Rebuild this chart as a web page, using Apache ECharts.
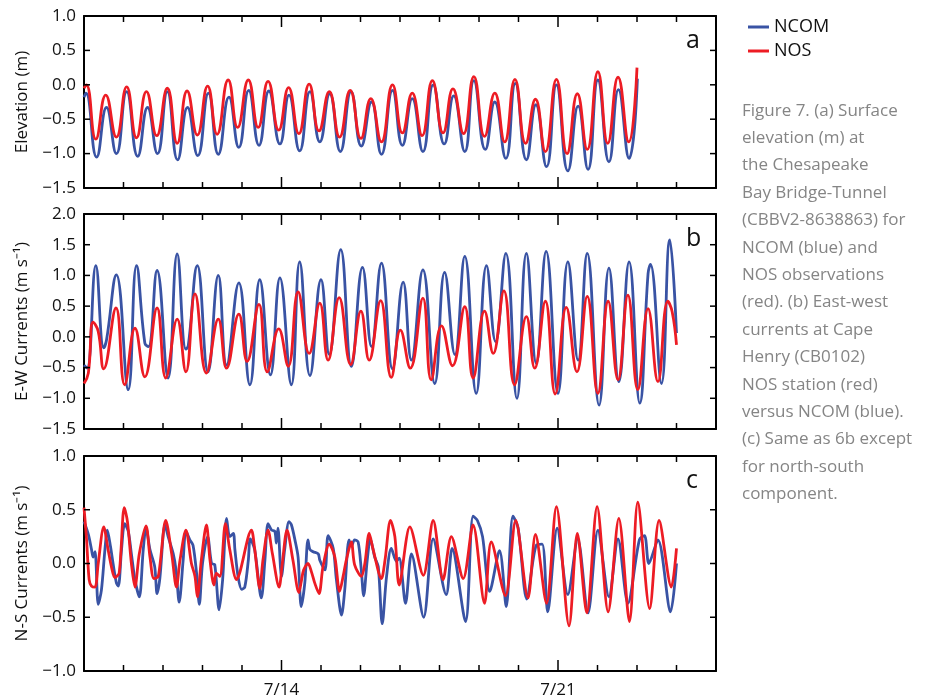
<!DOCTYPE html>
<html><head><meta charset="utf-8">
<script src="https://cdn.jsdelivr.net/npm/echarts@6/dist/echarts.min.js"></script>
<style>html,body{margin:0;padding:0;background:#fff}#c{width:946px;height:700px}</style>
</head><body><div id="c"></div>
<script>
// x values are days since 7/9 00:00
const dayTicks = [0,1,2,3,4,5,6,7,8,9,10,11,12,13,14,15,16];
const majorTicks = [5,12];
const majorLabels = {5:'7/14', 12:'7/21'};
const elevTicks = [-1.5,-1.0,-0.5,0.0,0.5,1.0];
const ewTicks = [-1.5,-1.0,-0.5,0.0,0.5,1.0,1.5,2.0];
const nsTicks = [-1.0,-0.5,0.0,0.5,1.0];
const panelLetters = ['a','b','c'];
const yNames = ['Elevation (m)','E-W Currents (m s\u207B\u00B9)','N-S Currents (m s\u207B\u00B9)'];
const yMins = [-1.5,-1.5,-1.0];
const yMaxs = [1.0,2.0,1.0];
const captionLines = ['Figure 7. (a) Surface','elevation (m) at','the Chesapeake','Bay Bridge-Tunnel','(CBBV2-8638863) for','NCOM (blue) and','NOS observations','(red). (b) East-west','currents at Cape','Henry (CB0102)','NOS station (red)','versus NCOM (blue).','(c) Same as 6b except','for north-south','component.'];

const elevNCOM = [[0.00,-0.18],[0.05,-0.12],[0.32,-1.05],[0.57,-0.33],[0.82,-1.00],[1.08,-0.10],[1.36,-1.04],[1.61,-0.33],[1.86,-1.00],[2.11,-0.10],[2.37,-1.09],[2.62,-0.33],[2.88,-1.03],[3.15,-0.12],[3.40,-1.01],[3.67,-0.18],[3.92,-0.91],[4.17,-0.08],[4.43,-0.88],[4.68,-0.09],[4.96,-0.86],[5.19,-0.15],[5.46,-0.96],[5.72,-0.10],[5.97,-0.83],[6.22,-0.13],[6.49,-0.97],[6.76,-0.10],[7.02,-0.89],[7.28,-0.25],[7.53,-1.01],[7.81,-0.08],[8.06,-0.88],[8.31,-0.20],[8.58,-0.97],[8.84,0.00],[9.12,-0.86],[9.36,-0.16],[9.64,-0.97],[9.87,0.06],[10.16,-0.94],[10.40,-0.25],[10.68,-1.07],[10.92,0.02],[11.20,-1.09],[11.44,-0.29],[11.71,-1.19],[11.96,0.00],[12.25,-1.25],[12.51,-0.31],[12.76,-1.23],[13.01,0.07],[13.29,-1.12],[13.53,-0.07],[13.80,-1.07],[14.01,0.09]];
const elevNOS = [[0.00,-0.05],[0.06,0.00],[0.30,-0.79],[0.55,-0.15],[0.82,-0.76],[1.08,-0.03],[1.33,-0.77],[1.58,-0.10],[1.84,-0.74],[2.11,-0.05],[2.36,-0.85],[2.61,-0.09],[2.87,-0.73],[3.13,-0.02],[3.37,-0.72],[3.65,0.07],[3.89,-0.62],[4.16,0.07],[4.41,-0.62],[4.66,0.05],[4.93,-0.66],[5.18,-0.04],[5.44,-0.71],[5.70,0.01],[5.95,-0.67],[6.21,-0.10],[6.47,-0.76],[6.74,-0.08],[7.01,-0.78],[7.26,-0.20],[7.53,-0.83],[7.81,0.00],[8.06,-0.70],[8.31,-0.12],[8.56,-0.74],[8.82,0.06],[9.09,-0.70],[9.34,-0.06],[9.61,-0.71],[9.87,0.12],[10.14,-0.75],[10.40,-0.12],[10.65,-0.83],[10.91,0.08],[11.18,-0.85],[11.43,-0.21],[11.68,-0.97],[11.96,0.08],[12.23,-1.00],[12.49,-0.13],[12.74,-0.94],[13.01,0.19],[13.26,-0.85],[13.52,0.11],[13.79,-0.83],[14.00,0.25]];

const ewNCOM = [[0.00,-0.46],[0.08,-0.51],[0.30,1.16],[0.50,-0.18],[0.57,-0.05],[0.82,1.01],[1.12,-0.86],[1.33,1.16],[1.54,-0.10],[1.63,-0.16],[1.85,1.08],[2.13,-0.67],[2.36,1.35],[2.58,-0.20],[2.64,-0.14],[2.87,1.16],[3.14,-0.57],[3.40,1.00],[3.61,-0.46],[3.92,0.88],[4.20,-0.78],[4.45,0.93],[4.72,-0.62],[4.96,0.96],[5.25,-0.78],[5.46,1.22],[5.72,-0.63],[6.00,0.93],[6.21,-0.29],[6.50,1.42],[6.77,-0.48],[7.05,1.13],[7.28,-0.16],[7.53,1.20],[7.81,-0.52],[8.08,0.89],[8.29,-0.38],[8.58,1.09],[8.88,-0.76],[9.13,1.05],[9.39,-0.29],[9.64,1.31],[9.93,-0.92],[10.19,1.16],[10.42,-0.08],[10.68,1.36],[10.96,-1.00],[11.20,1.36],[11.45,-0.43],[11.70,1.39],[12.00,-0.92],[12.25,1.22],[12.51,-0.38],[12.74,1.36],[13.04,-1.11],[13.29,1.12],[13.54,-0.73],[13.80,1.22],[14.07,-1.08],[14.28,1.03],[14.34,1.18],[14.62,-0.76],[14.83,1.58],[15.00,0.06]];
const ewNOS = [[0.00,-0.76],[0.11,-0.59],[0.23,0.24],[0.36,0.09],[0.50,-0.52],[0.81,0.47],[1.03,-0.78],[1.29,0.14],[1.54,-0.65],[1.85,0.47],[2.07,-0.67],[2.36,0.29],[2.58,-0.57],[2.81,0.70],[3.10,-0.59],[3.40,0.29],[3.61,-0.51],[3.92,0.37],[4.13,-0.40],[4.43,0.53],[4.64,-0.57],[4.93,0.13],[5.17,-0.48],[5.42,0.73],[5.70,-0.27],[5.97,0.55],[6.18,-0.38],[6.46,0.64],[6.75,-0.45],[7.01,0.42],[7.22,-0.38],[7.51,0.59],[7.78,-0.66],[8.01,0.11],[8.26,-0.51],[8.58,0.63],[8.79,-0.70],[9.05,0.18],[9.33,-0.47],[9.64,0.49],[9.85,-0.67],[10.14,0.42],[10.36,-0.27],[10.63,0.75],[10.90,-0.78],[11.20,0.33],[11.41,-0.51],[11.68,0.58],[11.93,-0.93],[12.21,0.48],[12.48,-0.57],[12.74,0.66],[13.01,-0.92],[13.27,0.58],[13.52,-0.70],[13.77,0.68],[14.02,-0.86],[14.28,0.46],[14.53,-0.73],[14.78,0.58],[14.89,0.41],[15.00,-0.13]];

const nsNCOM = [[0.00,0.39],[0.11,0.27],[0.19,0.13],[0.23,0.06],[0.28,0.11],[0.36,-0.38],[0.44,-0.25],[0.53,0.13],[0.59,0.31],[0.67,0.16],[0.74,-0.01],[0.82,-0.18],[0.87,-0.21],[0.95,0.13],[1.03,0.37],[1.12,0.30],[1.20,0.09],[1.29,-0.15],[1.40,-0.31],[1.50,0.13],[1.57,0.33],[1.67,0.13],[1.79,-0.03],[1.85,-0.28],[1.92,-0.14],[2.05,0.36],[2.13,0.25],[2.26,0.09],[2.33,-0.06],[2.41,-0.36],[2.51,0.03],[2.58,0.30],[2.68,0.22],[2.76,0.17],[2.85,-0.09],[2.92,-0.38],[3.00,0.00],[3.13,0.25],[3.23,0.00],[3.31,-0.01],[3.42,-0.43],[3.51,-0.15],[3.61,0.42],[3.69,0.25],[3.78,0.28],[3.82,0.13],[3.90,-0.12],[3.99,-0.24],[4.07,-0.22],[4.16,0.03],[4.21,0.23],[4.32,0.13],[4.49,-0.32],[4.58,0.03],[4.66,0.37],[4.75,0.31],[4.83,0.30],[4.87,0.19],[4.91,0.33],[5.00,-0.12],[5.08,0.13],[5.19,0.39],[5.25,0.36],[5.34,0.22],[5.42,0.06],[5.50,-0.40],[5.59,-0.18],[5.67,0.22],[5.72,0.13],[5.80,0.11],[5.93,0.09],[5.97,0.03],[6.10,-0.06],[6.18,0.26],[6.31,0.14],[6.39,-0.15],[6.52,-0.48],[6.60,-0.25],[6.71,0.22],[6.77,0.16],[6.85,0.22],[6.94,0.20],[7.02,-0.06],[7.08,-0.30],[7.17,0.03],[7.25,0.23],[7.36,0.06],[7.45,-0.03],[7.55,-0.56],[7.66,-0.12],[7.78,0.14],[7.91,0.02],[7.98,0.05],[8.14,-0.37],[8.29,0.09],[8.60,-0.50],[8.84,0.23],[9.17,-0.29],[9.32,0.14],[9.66,-0.54],[9.85,0.44],[9.96,0.40],[10.09,0.25],[10.27,-0.26],[10.52,0.12],[10.69,-0.40],[10.86,0.44],[10.99,0.33],[11.21,-0.33],[11.45,0.17],[11.60,0.18],[11.74,-0.45],[11.98,0.33],[12.25,-0.29],[12.50,0.23],[12.76,-0.46],[13.01,0.31],[13.29,-0.31],[13.52,0.23],[13.77,-0.37],[14.06,0.22],[14.19,0.26],[14.30,0.00],[14.53,0.22],[14.85,-0.45],[15.00,0.00]];
const nsNOS = [[0.00,0.52],[0.06,0.25],[0.13,-0.15],[0.19,-0.21],[0.28,-0.22],[0.36,0.00],[0.50,0.34],[0.61,0.13],[0.70,-0.04],[0.78,-0.13],[0.89,-0.09],[1.02,0.52],[1.10,0.39],[1.20,0.00],[1.29,-0.22],[1.40,0.09],[1.57,0.35],[1.67,0.06],[1.77,-0.14],[1.88,-0.12],[2.07,0.40],[2.22,0.09],[2.34,-0.22],[2.43,0.03],[2.58,0.31],[2.72,0.00],[2.81,-0.12],[2.87,-0.31],[2.97,0.03],[3.10,0.36],[3.19,0.03],[3.29,-0.20],[3.35,-0.09],[3.44,-0.12],[3.58,0.37],[3.69,0.13],[3.86,-0.15],[3.94,-0.09],[4.24,0.31],[4.32,0.14],[4.45,-0.23],[4.53,0.03],[4.66,0.31],[4.77,0.09],[4.94,-0.22],[5.02,0.00],[5.14,0.31],[5.29,0.03],[5.44,-0.27],[5.50,-0.17],[5.56,-0.06],[5.67,0.00],[5.76,-0.08],[5.84,-0.18],[5.95,-0.28],[6.05,-0.03],[6.21,0.18],[6.35,0.06],[6.47,-0.26],[6.56,-0.12],[6.64,0.03],[6.77,0.20],[6.85,-0.01],[7.02,-0.12],[7.11,0.00],[7.22,0.28],[7.32,0.13],[7.53,-0.14],[7.62,0.03],[7.76,0.40],[7.87,0.25],[7.98,-0.20],[8.25,0.34],[8.59,-0.11],[8.84,0.40],[9.09,-0.15],[9.30,0.25],[9.60,-0.14],[9.85,0.36],[10.14,-0.37],[10.31,0.20],[10.67,-0.30],[10.93,0.40],[11.24,-0.32],[11.43,0.27],[11.71,-0.37],[11.96,0.53],[12.28,-0.58],[12.49,0.28],[12.73,-0.46],[12.99,0.53],[13.27,-0.45],[13.54,0.42],[13.81,-0.54],[14.02,0.57],[14.32,-0.42],[14.56,0.40],[14.87,-0.22],[15.00,0.14]];

const ncomData = [elevNCOM, ewNCOM, nsNCOM];
const nosData = [elevNOS, ewNOS, nsNOS];
const yTicks = [elevTicks, ewTicks, nsTicks];
const smoothness = [0.5, 0.45, 0.3];

const FONT = '"Open Sans", sans-serif';
const BLUE = '#3953a4', RED = '#ed1c24';
const gridTops = [16, 214, 456];
const gridHeights = [172, 215, 215];
const fmt = v => (v < 0 ? '\u2212' : '') + Math.abs(v).toFixed(1);

const option = {
  animation: false,
  backgroundColor: '#fff',
  grid: [], xAxis: [], yAxis: [], series: [],
  legend: {
    data: ['NCOM', 'NOS'], orient: 'vertical', left: 743, top: 13,
    icon: 'rect', itemWidth: 21, itemHeight: 3, itemGap: 6, selectedMode: false,
    textStyle: { fontFamily: FONT, fontSize: 18, color: '#111' }
  }
};

const frame = { color: '#000', width: 2 };
const graphics = [];

for (let i = 0; i < 3; i++) {
  option.grid.push({ left: 84, width: 632, top: gridTops[i], height: gridHeights[i] });
  const base = { type: 'value', gridIndex: i, min: 0, max: 16, interval: 1, splitLine: { show: false }, axisTick: { show: false } };
  option.xAxis.push(Object.assign({}, base, {
    position: 'bottom',
    axisLine: { show: true, onZero: false, lineStyle: frame },
    axisLabel: { show: i === 2, formatter: v => majorLabels[v] || '', margin: 11,
      fontFamily: FONT, fontSize: 17, color: '#111' }
  }));
  option.xAxis.push(Object.assign({}, base, {
    position: 'top',
    axisLine: { show: true, onZero: false, lineStyle: frame },
    axisLabel: { show: false }
  }));
  const ybase = { type: 'value', gridIndex: i, min: yMins[i], max: yMaxs[i], interval: 0.5, splitLine: { show: false }, axisTick: { show: false } };
  option.yAxis.push(Object.assign({}, ybase, {
    position: 'left',
    name: yNames[i], nameLocation: 'middle', nameGap: 53,
    nameTextStyle: { fontFamily: FONT, fontSize: 17, color: '#111' },
    axisLine: { show: true, onZero: false, lineStyle: frame },
    axisLabel: { formatter: fmt, margin: 8, fontFamily: FONT, fontSize: 17, color: '#111' }
  }));
  option.yAxis.push(Object.assign({}, ybase, {
    position: 'right',
    axisLine: { show: true, onZero: false, lineStyle: frame },
    axisLabel: { show: false }
  }));
  option.series.push({
    name: 'NCOM', type: 'line', xAxisIndex: 2 * i, yAxisIndex: 2 * i, data: ncomData[i],
    showSymbol: false, smooth: smoothness[i], clip: true,
    lineStyle: { color: BLUE, width: 2.8 }, itemStyle: { color: BLUE }
  });
  option.series.push({
    name: 'NOS', type: 'line', xAxisIndex: 2 * i, yAxisIndex: 2 * i, data: nosData[i],
    showSymbol: false, smooth: smoothness[i], clip: true,
    lineStyle: { color: RED, width: 2.8 }, itemStyle: { color: RED }
  });
  graphics.push({
    type: 'text', x: 686, y: gridTops[i] + 25,
    style: { text: panelLetters[i], fontFamily: FONT, fontSize: 25, fill: '#111', textVerticalAlign: 'middle' }
  });
}

graphics.push({
  type: 'text', x: 742, y: 97,
  style: { text: captionLines.join('\n'), fontFamily: FONT, fontSize: 17, lineHeight: 27.4, fill: '#858585' }
});

const chart = echarts.init(document.getElementById('c'), null, { renderer: 'canvas' });
chart.setOption(option);

// inward tick marks placed through the chart's own scales
const tickLine = (x1, y1, x2, y2) => ({ type: 'line', silent: true, z: 50,
  shape: { x1, y1, x2, y2 }, style: { stroke: '#000', lineWidth: 1.5 } });
for (let i = 0; i < 3; i++) {
  const finder = { xAxisIndex: 2 * i, yAxisIndex: 2 * i };
  dayTicks.forEach(d => {
    const len = majorTicks.indexOf(d) >= 0 ? 11 : 6;
    const pb = chart.convertToPixel(finder, [d, yMins[i]]);
    const pt = chart.convertToPixel(finder, [d, yMaxs[i]]);
    graphics.push(tickLine(pb[0], pb[1], pb[0], pb[1] - len));
    graphics.push(tickLine(pt[0], pt[1], pt[0], pt[1] + len));
  });
  yTicks[i].forEach(v => {
    const pl = chart.convertToPixel(finder, [0, v]);
    const pr = chart.convertToPixel(finder, [16, v]);
    graphics.push(tickLine(pl[0], pl[1], pl[0] + 6, pl[1]));
    graphics.push(tickLine(pr[0], pr[1], pr[0] - 6, pr[1]));
  });
}
chart.setOption({ graphic: graphics });
</script></body></html>
